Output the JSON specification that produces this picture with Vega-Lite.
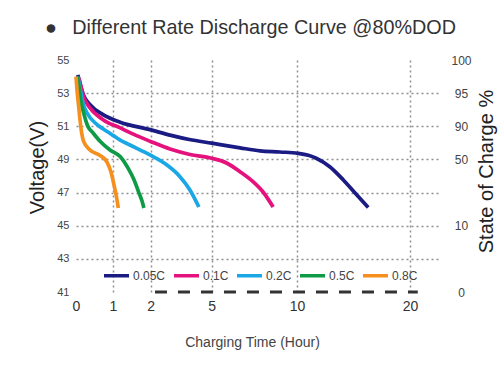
{
  "$schema": "https://vega.github.io/schema/vega-lite/v6.json",
  "autosize": {"type": "none"},
  "padding": {"left": 76, "top": 60, "right": 60, "bottom": 73},
  "width": 364,
  "height": 232,
  "background": "white",
  "config": {"view": {"stroke": null}, "font": "Liberation Sans"},
  "title": {
    "text": "●\u2002 Different Rate Discharge Curve @80%DOD",
    "anchor": "start",
    "frame": "group",
    "font": "Liberation Sans",
    "fontSize": 19.8,
    "fontWeight": "normal",
    "color": "#333333",
    "dx": -31,
    "offset": 16
  },
  "datasets": {
    "curves": [
      {"rate": "0.05C", "hours": 0.05, "voltage": 54.1},
      {"rate": "0.05C", "hours": 0.2, "voltage": 52.9},
      {"rate": "0.05C", "hours": 0.38, "voltage": 52.3},
      {"rate": "0.05C", "hours": 0.73, "voltage": 51.7},
      {"rate": "0.05C", "hours": 1.19, "voltage": 51.25},
      {"rate": "0.05C", "hours": 1.98, "voltage": 50.8},
      {"rate": "0.05C", "hours": 3.0, "voltage": 50.45},
      {"rate": "0.05C", "hours": 3.9, "voltage": 50.2},
      {"rate": "0.05C", "hours": 5.0, "voltage": 49.98},
      {"rate": "0.05C", "hours": 6.66, "voltage": 49.7},
      {"rate": "0.05C", "hours": 7.83, "voltage": 49.52},
      {"rate": "0.05C", "hours": 9.0, "voltage": 49.45},
      {"rate": "0.05C", "hours": 10.1, "voltage": 49.37},
      {"rate": "0.05C", "hours": 11.0, "voltage": 49.25},
      {"rate": "0.05C", "hours": 11.7, "voltage": 49.07},
      {"rate": "0.05C", "hours": 12.9, "voltage": 48.56},
      {"rate": "0.05C", "hours": 14.1, "voltage": 47.76},
      {"rate": "0.05C", "hours": 15.3, "voltage": 46.85},
      {"rate": "0.05C", "hours": 16.3, "voltage": 46.1},
      {"rate": "0.1C", "hours": 0.08, "voltage": 53.9},
      {"rate": "0.1C", "hours": 0.22, "voltage": 52.7},
      {"rate": "0.1C", "hours": 0.38, "voltage": 52.1},
      {"rate": "0.1C", "hours": 0.73, "voltage": 51.4},
      {"rate": "0.1C", "hours": 1.19, "voltage": 50.9},
      {"rate": "0.1C", "hours": 1.61, "voltage": 50.45},
      {"rate": "0.1C", "hours": 1.98, "voltage": 50.1},
      {"rate": "0.1C", "hours": 2.95, "voltage": 49.63},
      {"rate": "0.1C", "hours": 3.93, "voltage": 49.3},
      {"rate": "0.1C", "hours": 5.0, "voltage": 49.07},
      {"rate": "0.1C", "hours": 5.9, "voltage": 48.77},
      {"rate": "0.1C", "hours": 6.66, "voltage": 48.26},
      {"rate": "0.1C", "hours": 7.42, "voltage": 47.66},
      {"rate": "0.1C", "hours": 8.0, "voltage": 47.05},
      {"rate": "0.1C", "hours": 8.6, "voltage": 46.13},
      {"rate": "0.2C", "hours": 0.05, "voltage": 54.0},
      {"rate": "0.2C", "hours": 0.11, "voltage": 53.3},
      {"rate": "0.2C", "hours": 0.19, "voltage": 52.4},
      {"rate": "0.2C", "hours": 0.3, "voltage": 51.8},
      {"rate": "0.2C", "hours": 0.57, "voltage": 51.1},
      {"rate": "0.2C", "hours": 0.73, "voltage": 50.85},
      {"rate": "0.2C", "hours": 1.0, "voltage": 50.45},
      {"rate": "0.2C", "hours": 1.19, "voltage": 50.17},
      {"rate": "0.2C", "hours": 1.45, "voltage": 49.87},
      {"rate": "0.2C", "hours": 1.98, "voltage": 49.27},
      {"rate": "0.2C", "hours": 2.8, "voltage": 48.66},
      {"rate": "0.2C", "hours": 3.44, "voltage": 47.96},
      {"rate": "0.2C", "hours": 3.93, "voltage": 47.16},
      {"rate": "0.2C", "hours": 4.37, "voltage": 46.13},
      {"rate": "0.5C", "hours": 0.04, "voltage": 54.0},
      {"rate": "0.5C", "hours": 0.08, "voltage": 53.4},
      {"rate": "0.5C", "hours": 0.135, "voltage": 52.5},
      {"rate": "0.5C", "hours": 0.22, "voltage": 51.7},
      {"rate": "0.5C", "hours": 0.32, "voltage": 51.0},
      {"rate": "0.5C", "hours": 0.46, "voltage": 50.6},
      {"rate": "0.5C", "hours": 0.65, "voltage": 50.1},
      {"rate": "0.5C", "hours": 0.92, "voltage": 49.57},
      {"rate": "0.5C", "hours": 1.19, "voltage": 49.17},
      {"rate": "0.5C", "hours": 1.4, "voltage": 48.48},
      {"rate": "0.5C", "hours": 1.56, "voltage": 47.76},
      {"rate": "0.5C", "hours": 1.68, "voltage": 47.03},
      {"rate": "0.5C", "hours": 1.77, "voltage": 46.49},
      {"rate": "0.5C", "hours": 1.82, "voltage": 46.07},
      {"rate": "0.8C", "hours": 0.0, "voltage": 54.0},
      {"rate": "0.8C", "hours": 0.027, "voltage": 53.2},
      {"rate": "0.8C", "hours": 0.068, "voltage": 52.3},
      {"rate": "0.8C", "hours": 0.108, "voltage": 51.4},
      {"rate": "0.8C", "hours": 0.149, "voltage": 50.66},
      {"rate": "0.8C", "hours": 0.203, "voltage": 50.11},
      {"rate": "0.8C", "hours": 0.378, "voltage": 49.57},
      {"rate": "0.8C", "hours": 0.649, "voltage": 49.24},
      {"rate": "0.8C", "hours": 0.838, "voltage": 48.84},
      {"rate": "0.8C", "hours": 0.946, "voltage": 48.24},
      {"rate": "0.8C", "hours": 1.027, "voltage": 47.46},
      {"rate": "0.8C", "hours": 1.093, "voltage": 46.73},
      {"rate": "0.8C", "hours": 1.14, "voltage": 46.07}
    ],
    "baseline": [
      {"hours_start": 2.21, "hours_end": 20.7, "voltage": 41}
    ]
  },
  "layer": [
    {
      "data": {"name": "curves"},
      "mark": {"type": "line", "interpolate": "monotone", "strokeWidth": 3.7},
      "encoding": {
        "x": {
          "field": "hours",
          "type": "quantitative",
          "scale": {"domain": [0, 1, 2, 5, 10, 20, 22.7], "range": [0, 37, 74.7, 135.7, 221, 334, 364], "nice": false, "zero": false},
          "axis": {
            "values": [0, 1, 2, 5, 10, 20],
            "domain": false,
            "ticks": false,
            "labelFontSize": 14,
            "labelColor": "#333333",
            "labelPadding": 7,
            "labelFlush": false,
            "labelOverlap": false,
            "grid": true,
            "gridColor": "#8f8f8f",
            "gridDash": [2, 3],
            "gridWidth": 1.5,
            "gridOpacity": {"condition": {"test": "datum.value == 0", "value": 0}, "value": 1},
            "title": "Charging Time (Hour)",
            "titleFontSize": 14,
            "titleFontWeight": "normal",
            "titleColor": "#444444",
            "titleX": 176,
            "titleY": 50,
            "titleBaseline": "middle"
          }
        },
        "y": {
          "field": "voltage",
          "type": "quantitative",
          "scale": {"domain": [41, 55], "nice": false, "zero": false},
          "axis": {
            "values": [41, 43, 45, 47, 49, 51, 53, 55],
            "domain": false,
            "ticks": false,
            "labelFontSize": 11,
            "labelColor": "#444444",
            "labelPadding": 7,
            "labelFlush": false,
            "grid": true,
            "gridColor": "#8f8f8f",
            "gridDash": [2, 3],
            "gridWidth": 1.5,
            "gridOpacity": {"condition": {"test": "datum.value == 41 || datum.value == 55", "value": 0}, "value": 1},
            "title": "Voltage(V)",
            "titleFontSize": 20,
            "titleFontWeight": "normal",
            "titleColor": "#222222",
            "titleAngle": 270,
            "titleX": -39,
            "titleY": 107,
            "titleAlign": "center",
            "titleBaseline": "middle"
          }
        },
        "color": {
          "field": "rate",
          "type": "nominal",
          "scale": {
            "domain": ["0.05C", "0.1C", "0.2C", "0.5C", "0.8C"],
            "range": ["#1b1b84", "#e5127d", "#1aa7e5", "#0f9a46", "#f5901e"]
          },
          "legend": {
            "orient": "none",
            "legendX": 26,
            "legendY": 201,
            "direction": "horizontal",
            "title": null,
            "symbolType": "stroke",
            "symbolSize": 625,
            "symbolStrokeWidth": 3.5,
            "labelFontSize": 12,
            "labelColor": "#444444",
            "labelOffset": 2,
            "columnPadding": 1,
            "padding": 0
          }
        }
      }
    },
    {
      "data": {"name": "baseline"},
      "mark": {"type": "rule", "strokeDash": [12, 11], "strokeWidth": 3, "color": "#333333"},
      "encoding": {
        "x": {"field": "hours_start", "type": "quantitative"},
        "x2": {"field": "hours_end"},
        "y": {
          "field": "voltage",
          "type": "quantitative",
          "scale": {"domain": [41, 55], "nice": false, "zero": false},
          "axis": {
            "orient": "right",
            "values": [55, 53, 51, 49, 45, 41],
            "labelExpr": "datum.value == 55 ? '100' : datum.value == 53 ? '95' : datum.value == 51 ? '90' : datum.value == 49 ? '50' : datum.value == 45 ? '10' : '0'",
            "domain": false,
            "ticks": false,
            "grid": false,
            "labelFontSize": 12,
            "labelColor": "#444444",
            "labelAlign": "center",
            "labelPadding": 21,
            "labelFlush": false,
            "title": "State of Charge %",
            "titleFontSize": 20,
            "titleFontWeight": "normal",
            "titleColor": "#222222",
            "titleAngle": 270,
            "titleX": 46,
            "titleY": 111,
            "titleAlign": "center",
            "titleBaseline": "middle"
          }
        }
      }
    }
  ],
  "resolve": {"scale": {"y": "independent"}, "axis": {"y": "independent"}}
}
